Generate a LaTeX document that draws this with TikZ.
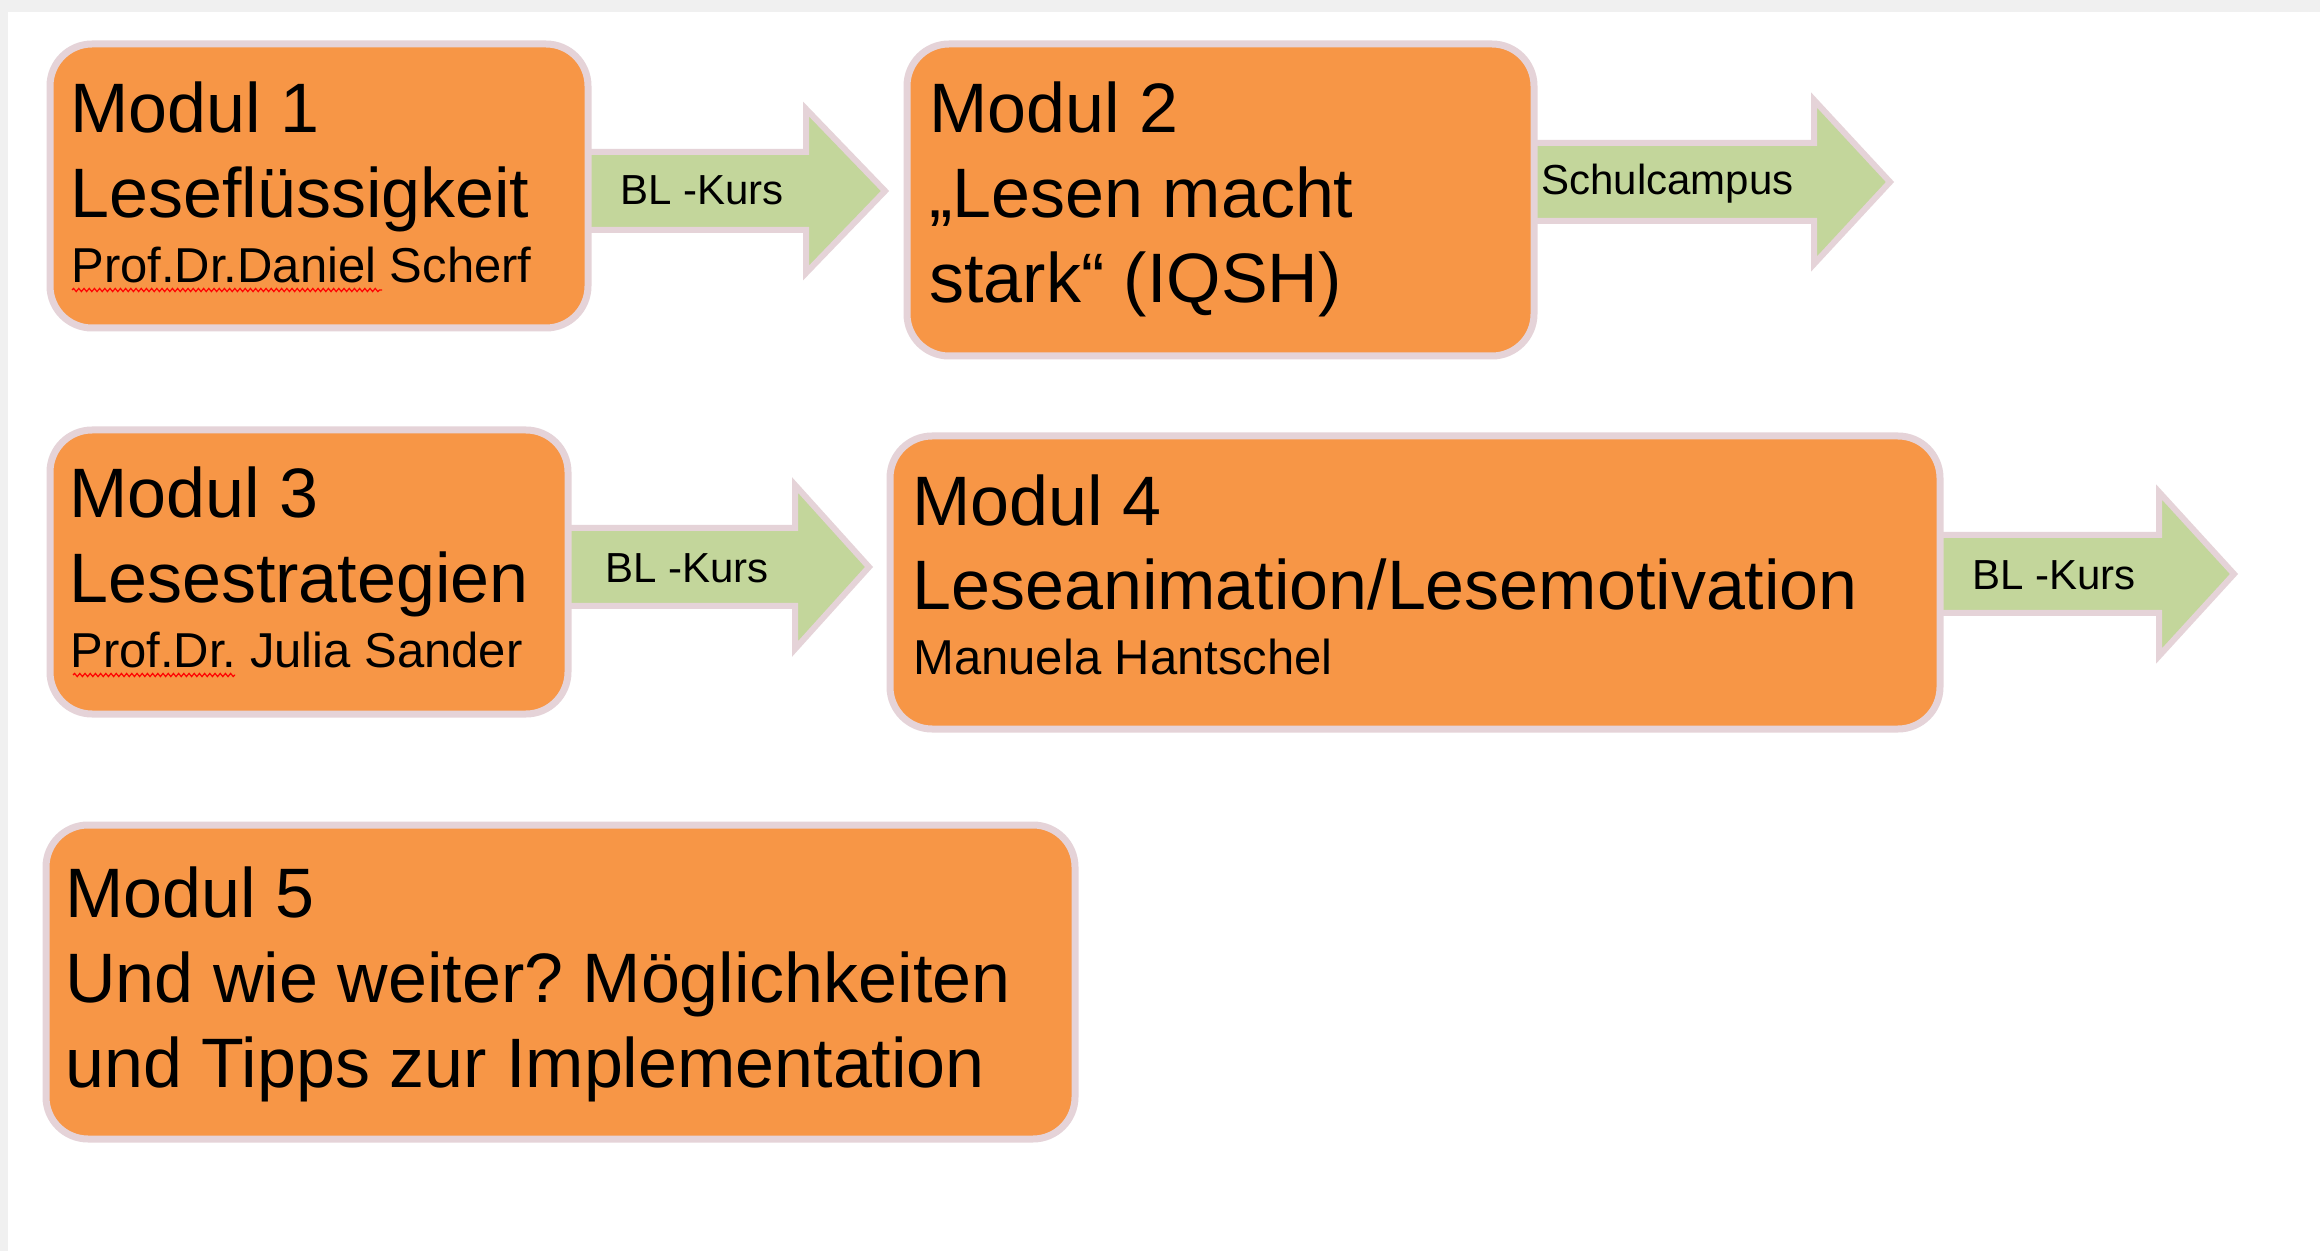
\documentclass[tikz,border=0pt]{standalone}
\usepackage{fontspec}
\setmainfont{Liberation Sans}
\usetikzlibrary{decorations.pathmorphing}
\definecolor{modorange}{HTML}{F79646}
\definecolor{modborder}{HTML}{E5D3D8}
\definecolor{arrgreen}{HTML}{C3D69B}
\definecolor{pagegray}{HTML}{F0F0F0}
\newcommand\blkarrow[4]{%
  \draw[arrowbox] (#1,#2-39) -- (#3,#2-39) -- (#3,#2-82) -- (#4,#2)
    -- (#3,#2+82) -- (#3,#2+39) -- (#1,#2+39) -- cycle;}
\frenchspacing
\begin{document}
\begin{tikzpicture}[x=0.5pt,y=-0.5pt,
  modbox/.style={draw=modborder, fill=modorange, line width=3.5pt, rounded corners=21pt, anchor=north west, inner sep=0pt},
  arrowbox/.style={draw=modborder, fill=arrgreen, line width=3pt, line join=miter},
  bigtxt/.style={anchor=base west, inner sep=0pt, font=\fontsize{35pt}{42pt}\selectfont},
  smalltxt/.style={anchor=base west, inner sep=0pt, font=\fontsize{24.5pt}{29pt}\selectfont},
  lbltxt/.style={anchor=base west, inner sep=0pt, font=\fontsize{21pt}{25pt}\selectfont},
  squiggle/.style={draw=red, line width=0.6pt, decorate, decoration={snake, amplitude=0.8pt, segment length=2.6pt}}]
% page background
\fill[white] (0,0) rectangle (2320,1251);
\fill[pagegray] (0,0) rectangle (2320,12);
\fill[pagegray] (0,0) rectangle (8,1251);
\useasboundingbox (0,0) rectangle (2320,1251);
% block arrows
\blkarrow{575}{191}{806}{885}
\blkarrow{1520}{182}{1814}{1890}
\blkarrow{555}{567}{795}{869}
\blkarrow{1925}{574}{2159}{2234}
% module boxes
\node[modbox, minimum width=269pt, minimum height=142pt] (m1) at (46.5,40.5) {};
\node[modbox, minimum width=313.5pt, minimum height=156pt] (m2) at (903.5,40.5) {};
\node[modbox, minimum width=259pt, minimum height=142pt] (m3) at (46.5,426.5) {};
\node[modbox, minimum width=525pt, minimum height=146.5pt] (m4) at (886.5,432.5) {};
\node[modbox, minimum width=514.5pt, minimum height=157pt] (m5) at (42.5,821.5) {};
% texts box 1
\node[bigtxt] (t1a) at (70,133) {Modul 1};
\node[bigtxt] (t1b) at (70,218) {Leseflüssigkeit};
\node[smalltxt] (t1c) at (71,283) {Prof.Dr.Daniel Scherf};
\draw[squiggle] (72,290) -- (382,290);
% texts box 2
\node[bigtxt] (t2a) at (929,133) {Modul 2};
\node[bigtxt] (t2b) at (929,218) {„Lesen macht};
\node[bigtxt] (t2c) at (929,303) {stark“ (IQSH)};
% texts box 3
\node[bigtxt] (t3a) at (69,518) {Modul 3};
\node[bigtxt] (t3b) at (69,603) {Lesestrategien};
\node[smalltxt] (t3c) at (70,668) {Prof.Dr. Julia Sander};
\draw[squiggle] (73,675) -- (235,675);
% texts box 4
\node[bigtxt] (t4a) at (912,526) {Modul 4};
\node[bigtxt] (t4b) at (912,610) {Leseanimation/Lesemotivation};
\node[smalltxt] (t4c) at (913,675) {Manuela Hantschel};
% texts box 5
\node[bigtxt] (t5a) at (65,917) {Modul 5};
\node[bigtxt] (t5b) at (65,1002) {Und wie weiter? Möglichkeiten};
\node[bigtxt] (t5c) at (65,1087) {und Tipps zur Implementation};
% arrow labels
\node[lbltxt] (l1) at (620,205) {BL -Kurs};
\node[lbltxt] (l2) at (1541,195) {Schulcampus};
\node[lbltxt] (l3) at (605,582) {BL -Kurs};
\node[lbltxt] (l4) at (1972,589) {BL -Kurs};
\end{tikzpicture}
\end{document}
